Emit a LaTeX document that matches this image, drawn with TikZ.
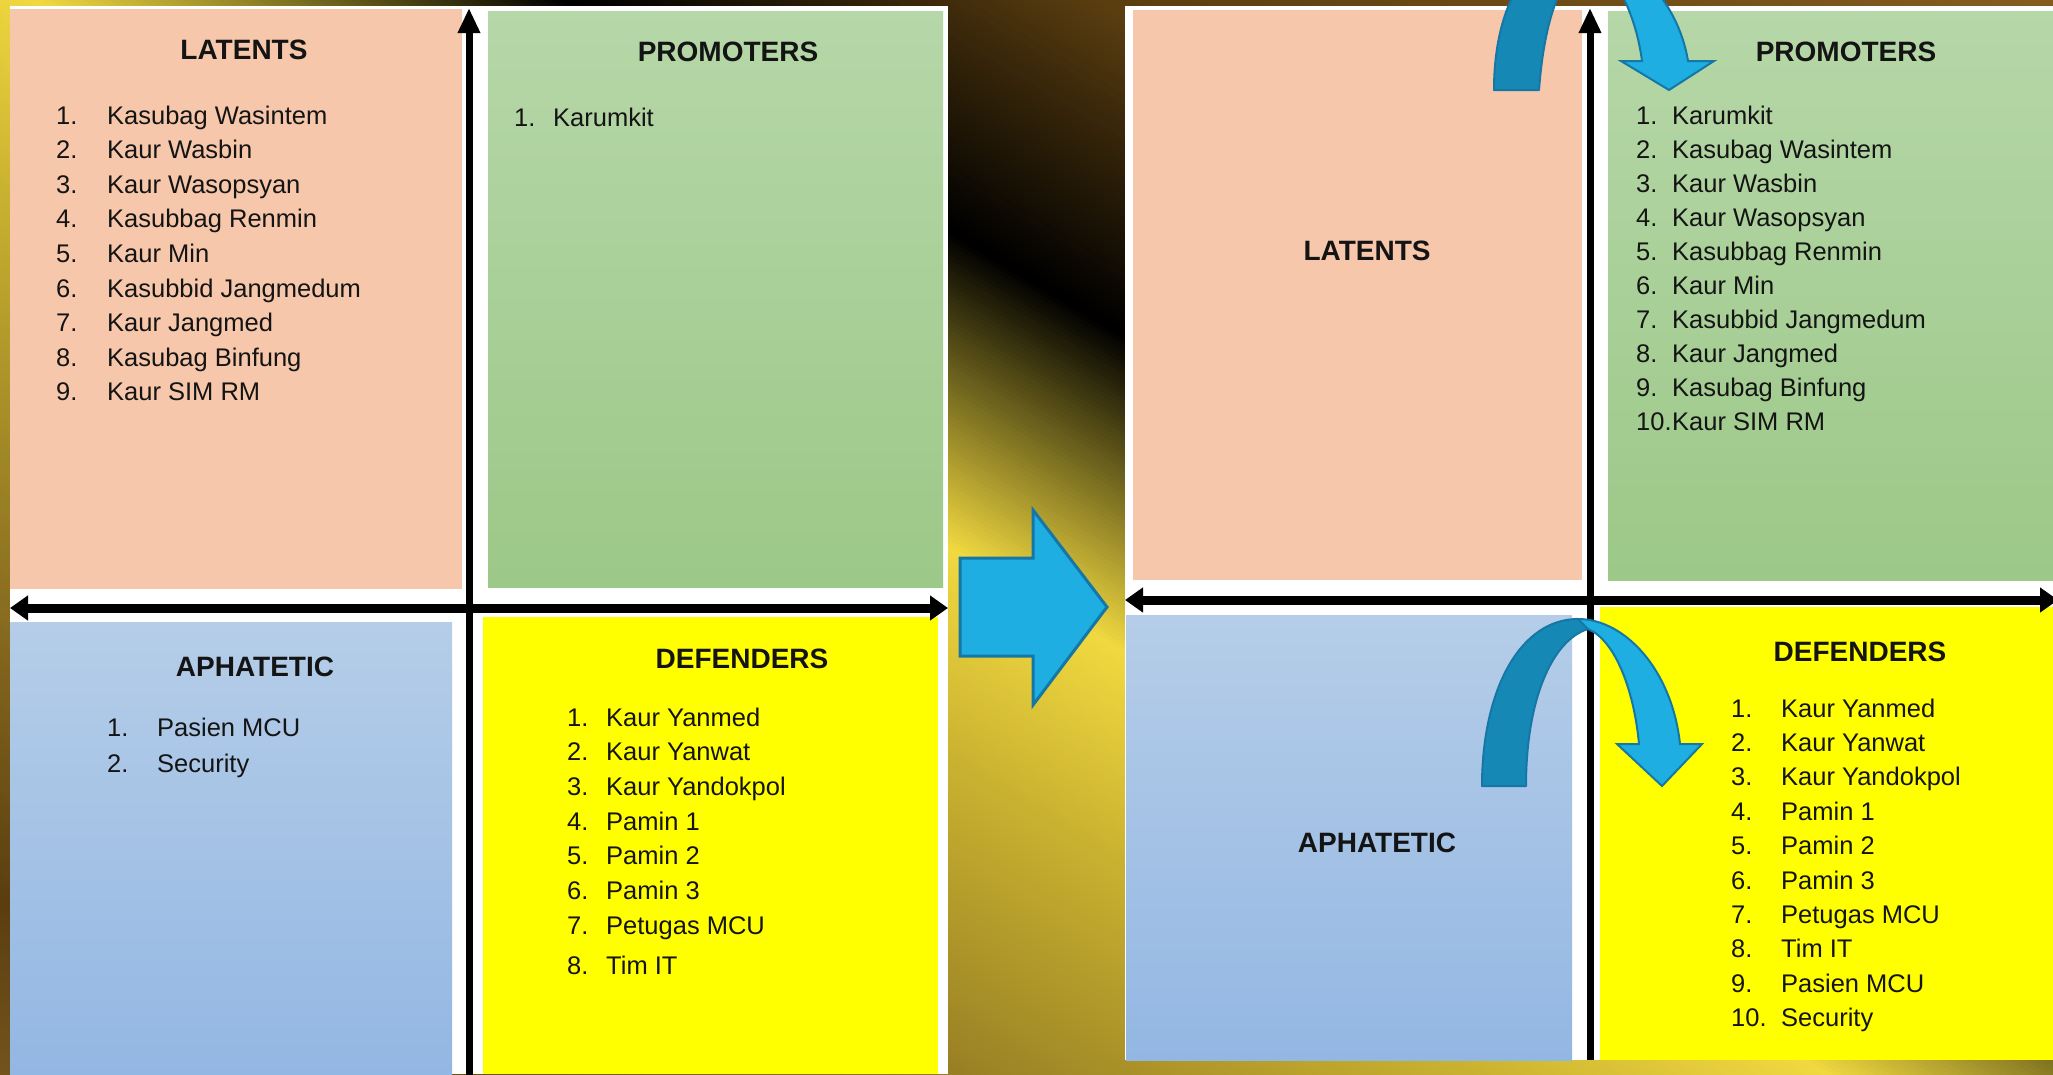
\documentclass[tikz,border=0pt]{standalone}
\usepackage{fontspec}
\setmainfont{Liberation Sans}
\usetikzlibrary{arrows.meta}
\definecolor{peach}{HTML}{F6C7AA}
\definecolor{greenT}{HTML}{B6D7A8}
\definecolor{greenB}{HTML}{9CC888}
\definecolor{blueT}{HTML}{B5CDE8}
\definecolor{blueB}{HTML}{93B7E3}
\definecolor{yel}{HTML}{FFFF00}
\definecolor{txt}{HTML}{141414}
\definecolor{arrLight}{HTML}{1EAEE2}
\definecolor{arrDark}{HTML}{1688B5}
\definecolor{arrEdge}{HTML}{1577A6}
\definecolor{bg0}{HTML}{8A6020}
\definecolor{bg1}{HTML}{5A3E10}
\definecolor{bg2}{HTML}{000000}
\definecolor{bg3}{HTML}{F0D840}
\definecolor{bg4}{HTML}{C8B030}
\definecolor{bg5}{HTML}{A89028}
\definecolor{bg6}{HTML}{8A6E20}
\definecolor{bg7}{HTML}{5A3E10}
\definecolor{bg8}{HTML}{7A5A20}
\tikzset{
  ttl/.style={font=\fontsize{28}{32}\selectfont\bfseries, text=txt, inner sep=0pt, anchor=center},
  num/.style={font=\fontsize{25.5}{30}\selectfont, text=txt, inner sep=0pt, anchor=base west},
  itm/.style={num},
  axv/.style={line width=7pt, black, -{Triangle[width=21pt,length=25pt]}},
  axh/.style={line width=9pt, black, {Triangle[width=24pt,length=18pt]}-{Triangle[width=24pt,length=18pt]}},
  curveback/.style={fill=arrDark, draw=arrEdge, line width=2pt, line join=round},
  curvefront/.style={fill=arrLight, draw=arrEdge, line width=2pt, line join=miter},
  bigarrow/.style={fill=arrLight, draw=arrEdge, line width=3pt, line join=miter}
}
\begin{document}
\begin{tikzpicture}[x=1pt,y=-1pt]
\useasboundingbox (0,0) rectangle (2053,1074);
\begin{scope}
\clip (0,0) rectangle (2053,1074);
% background gradient in diagonal bands
\foreach \da/\db/\ca/\cb in {-1300/-660/bg0/bg1, -660/-340/bg1/bg2, -340/-20/bg2/bg3, -20/200/bg3/bg4, 200/400/bg4/bg5, 400/600/bg5/bg6, 600/900/bg6/bg7, 900/1120/bg7/bg8}{
  \foreach \k in {0,...,63}{
    \pgfmathsetmacro{\p}{\k/63*100}
    \pgfmathsetmacro{\dA}{\da+\k/64*(\db-\da)}
    \pgfmathsetmacro{\dB}{\da+(\k+1)/64*(\db-\da)+2}
    \colorlet{bandc}{\cb!\p!\ca}
    \fill[bandc] (-20,{-12+\dA}) -- (2080,{1248+\dA}) -- (2080,{1248+\dB}) -- (-20,{-12+\dB}) -- cycle;
  }
}
% white panels
\fill[white] (10,6) rectangle (948,1074);
\fill[white] (1125,6) rectangle (2053,1060);
% left quadrants
\fill[peach] (10,9) rectangle (462,589);
\shade[top color=greenT, bottom color=greenB] (488,11) rectangle (943,587);
\shade[top color=blueT, bottom color=blueB] (10,622) rectangle (452,1074);
\fill[yel] (483,617) rectangle (938,1074);
% right quadrants
\fill[peach] (1133,10) rectangle (1582,580);
\shade[top color=greenT, bottom color=greenB] (1608,11) rectangle (2053,580);
\shade[top color=blueT, bottom color=blueB] (1126,615) rectangle (1572,1060);
\fill[yel] (1600,607) rectangle (2053,1060);
% axes
\coordinate (LvB) at (469,1080);
\coordinate (LvT) at (469,8);
\coordinate (LhL) at (10,608);
\coordinate (LhR) at (948,608);
\coordinate (RvB) at (1590,1060);
\coordinate (RvT) at (1590,8);
\coordinate (RhL) at (1125,600);
\coordinate (RhR) at (2058,600);
\draw[axv] (LvB) -- (LvT);
\draw[axh] (LhL) -- (LhR);
\draw[axv] (RvB) -- (RvT);
\draw[axh] (RhL) -- (RhR);
% central arrow
\draw[bigarrow] (960,558) -- (1033,558) -- (1033,510) -- (1107,607) -- (1033,705) -- (1033,656) -- (960,656) -- cycle;
% top curved arrow
\draw[curveback] (1494,90) .. controls (1494,10) and (1525,-50) .. (1578,-50) -- (1588,-40) .. controls (1565,-30) and (1545,10) .. (1539,90) -- cycle;
\draw[curvefront] (1578,-50) .. controls (1630,-50) and (1678,0) .. (1688,61) -- (1714,61) -- (1669,90) -- (1621,61) -- (1642,61) .. controls (1636,15) and (1615,-30) .. (1588,-40) -- cycle;
% bottom curved arrow
\draw[curveback] (1482,786) .. controls (1482,690) and (1520,619) .. (1578,619) -- (1588,629) .. controls (1552,640) and (1526,700) .. (1526,786) -- cycle;
\draw[curvefront] (1578,619) .. controls (1625,619) and (1672,670) .. (1680,744) -- (1702,744) -- (1662,786) -- (1617,744) -- (1639,744) .. controls (1634,690) and (1615,640) .. (1588,629) -- cycle;
\end{scope}
% ---- titles left
\node[ttl] (tL1) at (244,50) {LATENTS};
\node[ttl] (tP1) at (728,52) {PROMOTERS};
\node[ttl] (tA1) at (255,667) {APHATETIC};
\node[ttl] (tD1) at (742,659) {DEFENDERS};
% ---- titles right
\node[ttl] (tL2) at (1367,251) {LATENTS};
\node[ttl] (tP2) at (1846,52) {PROMOTERS};
\node[ttl] (tA2) at (1377,843) {APHATETIC};
\node[ttl] (tD2) at (1860,652) {DEFENDERS};
% ---- left latents list
\foreach \t [count=\i] in {Kasubag Wasintem, Kaur Wasbin, Kaur Wasopsyan, Kasubbag Renmin, Kaur Min, Kasubbid Jangmedum, Kaur Jangmed, Kasubag Binfung, Kaur SIM RM}{
  \node[num] (LLn\i) at (56,{124+(\i-1)*34.6}) {\i.};
  \node[itm] (LLt\i) at (107,{124+(\i-1)*34.6}) {\t};
}
% ---- left promoters list
\node[num] (LPn1) at (514,126) {1.};
\node[itm] (LPt1) at (553,126) {Karumkit};
% ---- left aphatetic list
\node[num] (LAn1) at (107,736) {1.};
\node[itm] (LAt1) at (157,736) {Pasien MCU};
\node[num] (LAn2) at (107,772) {2.};
\node[itm] (LAt2) at (157,772) {Security};
% ---- left defenders list
\foreach \t [count=\i] in {Kaur Yanmed, Kaur Yanwat, Kaur Yandokpol, Pamin 1, Pamin 2, Pamin 3, Petugas MCU}{
  \node[num] (LDn\i) at (567,{726+(\i-1)*34.7}) {\i.};
  \node[itm] (LDt\i) at (606,{726+(\i-1)*34.7}) {\t};
}
\node[num] (LDn8) at (567,974) {8.};
\node[itm] (LDt8) at (606,974) {Tim IT};
% ---- right promoters list
\foreach \t [count=\i] in {Karumkit, Kasubag Wasintem, Kaur Wasbin, Kaur Wasopsyan, Kasubbag Renmin, Kaur Min, Kasubbid Jangmedum, Kaur Jangmed, Kasubag Binfung, Kaur SIM RM}{
  \node[num] (RPn\i) at (1636,{124+(\i-1)*34}) {\i.};
  \node[itm] (RPt\i) at (1672,{124+(\i-1)*34}) {\t};
}
% ---- right defenders list
\foreach \t [count=\i] in {Kaur Yanmed, Kaur Yanwat, Kaur Yandokpol, Pamin 1, Pamin 2, Pamin 3, Petugas MCU, Tim IT, Pasien MCU, Security}{
  \node[num] (RDn\i) at (1731,{717+(\i-1)*34.4}) {\i.};
  \node[itm] (RDt\i) at (1781,{717+(\i-1)*34.4}) {\t};
}
\end{tikzpicture}
\end{document}
